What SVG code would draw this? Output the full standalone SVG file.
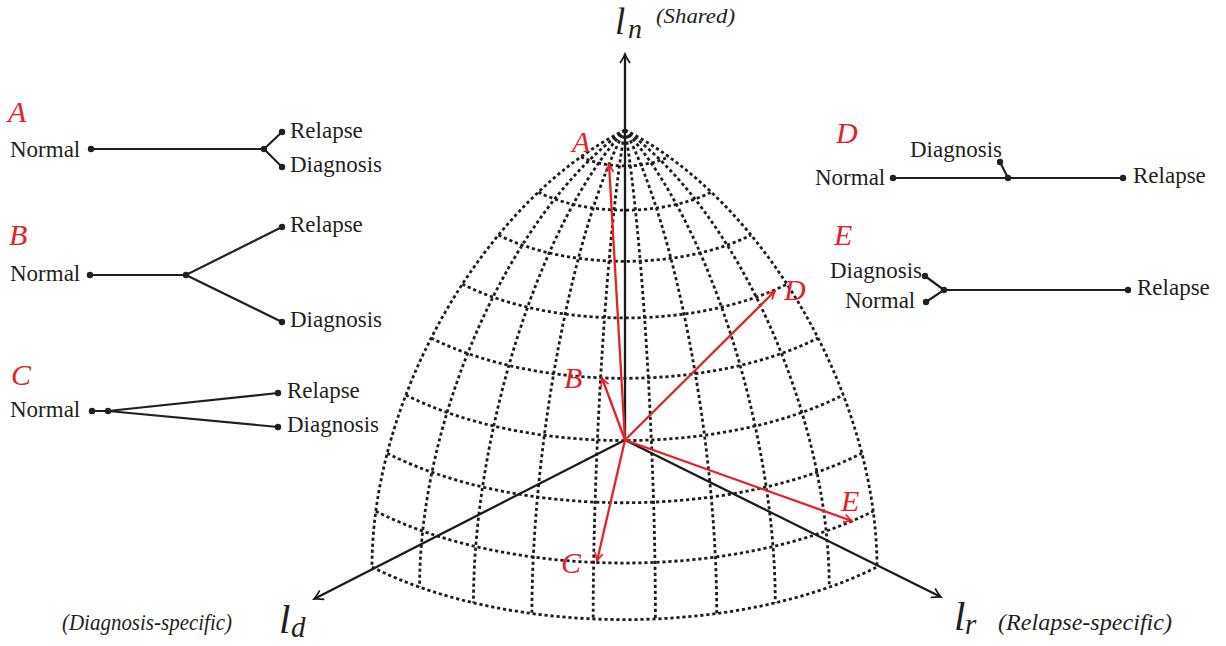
<svg xmlns="http://www.w3.org/2000/svg" width="1226" height="646" viewBox="0 0 1226 646" font-family="Liberation Serif, DejaVu Serif, serif">
<style>
.grid{fill:none;stroke:#1e1e1e;stroke-width:2.8;stroke-dasharray:3.2 2.8}
.axis{fill:none;stroke:#1a1a1a;stroke-width:2.3}
.vec{fill:none;stroke:#e4202a;stroke-width:2.3}
.edge{fill:none;stroke:#231f20;stroke-width:2.2}
.dot{fill:#231f20}
.lbl{font-size:23px;fill:#231f20}
.red{font-style:italic;font-size:30px;fill:#e4202a}
.ax{font-style:italic;fill:#231f20}
</style>
<defs>
<marker id="ra" viewBox="-10 -6 12 12" refX="0" refY="0" markerWidth="12" markerHeight="12" markerUnits="userSpaceOnUse" orient="auto">
<path d="M-8,-4 Q-3,-1 0,0 Q-3,1 -8,4" fill="none" stroke="#e4202a" stroke-width="1.7"/>
</marker>
<marker id="ka" viewBox="-12 -7 14 14" refX="0" refY="0" markerWidth="14" markerHeight="14" markerUnits="userSpaceOnUse" orient="auto">
<path d="M-9,-5 Q-3,-1 0,0 Q-3,1 -9,5" fill="none" stroke="#1a1a1a" stroke-width="1.7"/>
</marker>
</defs>

<g id="sphere-grid">
<path class="grid" d="M625,130 C485.27,200.14 372,395.79 372,567"/>
<path class="grid" d="M625,130 C511.56,211.25 419.60,415.91 419.60,587.12"/>
<path class="grid" d="M625,130 C541.30,219.90 473.45,431.57 473.45,602.78"/>
<path class="grid" d="M625,130 C573.58,225.82 531.90,442.28 531.90,613.49"/>
<path class="grid" d="M625,130 C607.42,228.81 593.17,447.71 593.17,618.92"/>
<path class="grid" d="M625,130 C641.80,228.81 655.41,447.71 655.41,618.92"/>
<path class="grid" d="M625,130 C675.67,225.82 716.74,442.28 716.74,613.49"/>
<path class="grid" d="M625,130 C707.99,219.90 775.27,431.57 775.27,602.78"/>
<path class="grid" d="M625,130 C737.80,211.25 829.24,415.91 829.24,587.12"/>
<path class="grid" d="M625,130 C764.17,200.14 877,395.79 877,567"/>
<path class="grid" d="M372,567 C511.17,637.14 737.27,637.14 877,567"/>
<path class="grid" d="M375.84,511.24 C512.90,580.31 735.56,580.31 873.17,511.24"/>
<path class="grid" d="M387.26,453.31 C518.04,519.22 730.50,519.22 861.80,453.31"/>
<path class="grid" d="M405.90,394.99 C526.42,455.73 722.23,455.73 843.24,394.99"/>
<path class="grid" d="M431.19,338.03 C537.80,391.76 711.00,391.76 818.04,338.03"/>
<path class="grid" d="M462.37,284.16 C551.83,329.25 697.17,329.25 786.98,284.16"/>
<path class="grid" d="M498.5,235.03 C568.08,270.10 681.14,270.10 751,235.03"/>
<path class="grid" d="M538.47,192.14 C586.07,216.13 663.40,216.13 711.19,192.14"/>
<path class="grid" d="M581.07,156.76 C605.23,168.94 644.50,168.94 668.76,156.76"/>
</g>

<g id="connectors">
<line class="axis" x1="625" y1="440" x2="625" y2="54" marker-end="url(#ka)"/>
<line class="axis" x1="625" y1="440" x2="314" y2="599" marker-end="url(#ka)"/>
<line class="axis" x1="625" y1="440" x2="941" y2="597" marker-end="url(#ka)"/>
<line class="vec" x1="625" y1="440" x2="609" y2="164" marker-end="url(#ra)"/>
<line class="vec" x1="625" y1="440" x2="602" y2="378" marker-end="url(#ra)"/>
<line class="vec" x1="625" y1="440" x2="597" y2="561" marker-end="url(#ra)"/>
<line class="vec" x1="625" y1="440" x2="775" y2="291" marker-end="url(#ra)"/>
<line class="vec" x1="625" y1="440" x2="852" y2="521" marker-end="url(#ra)"/>
</g>

<g id="axis-labels">
<text class="ax" x="615" y="34" font-size="37">l</text>
<text class="ax" x="628" y="38" font-size="28">n</text>
<text class="ax" x="656" y="23" font-size="22" textLength="79" lengthAdjust="spacingAndGlyphs">(Shared)</text>
<text class="ax" x="62" y="630" font-size="24" textLength="170" lengthAdjust="spacingAndGlyphs">(Diagnosis-specific)</text>
<text class="ax" x="279" y="633" font-size="41">l</text>
<text class="ax" x="291" y="637" font-size="29">d</text>
<text class="ax" x="954" y="630" font-size="41">l</text>
<text class="ax" x="965" y="634" font-size="29">r</text>
<text class="ax" x="998" y="630" font-size="24" textLength="174" lengthAdjust="spacingAndGlyphs">(Relapse-specific)</text>
</g>

<g id="vector-labels">
<text class="red" x="572" y="152">A</text>
<text class="red" x="564" y="388">B</text>
<text class="red" x="561" y="573">C</text>
<text class="red" x="784" y="300">D</text>
<text class="red" x="841" y="511">E</text>
</g>

<g id="tree-A">
<text class="red" x="8" y="122">A</text>
<text class="lbl" x="10" y="157">Normal</text>
<path class="edge" d="M91,149 H264 L282,132 M264,149 L282,167"/>
<circle class="dot" cx="91" cy="149" r="3.2"/>
<circle class="dot" cx="264" cy="149" r="3.2"/>
<circle class="dot" cx="282" cy="132" r="3.2"/>
<circle class="dot" cx="282" cy="167" r="3.2"/>
<text class="lbl" x="290" y="138">Relapse</text>
<text class="lbl" x="290" y="172">Diagnosis</text>
</g>

<g id="tree-B">
<text class="red" x="9" y="245">B</text>
<text class="lbl" x="10" y="281">Normal</text>
<path class="edge" d="M90,275 H186 L282,227 M186,275 L282,322"/>
<circle class="dot" cx="90" cy="275" r="3.2"/>
<circle class="dot" cx="186" cy="275" r="3.2"/>
<circle class="dot" cx="282" cy="227" r="3.2"/>
<circle class="dot" cx="282" cy="322" r="3.2"/>
<text class="lbl" x="290" y="232">Relapse</text>
<text class="lbl" x="290" y="327">Diagnosis</text>
</g>

<g id="tree-C">
<text class="red" x="11" y="385">C</text>
<text class="lbl" x="10" y="417">Normal</text>
<path class="edge" d="M92,411 H108 L278,393 M108,411 L278,427"/>
<circle class="dot" cx="92" cy="411" r="3.2"/>
<circle class="dot" cx="108" cy="411" r="3.2"/>
<circle class="dot" cx="278" cy="393" r="3.2"/>
<circle class="dot" cx="278" cy="427" r="3.2"/>
<text class="lbl" x="287" y="398">Relapse</text>
<text class="lbl" x="287" y="432">Diagnosis</text>
</g>

<g id="tree-D">
<text class="red" x="836" y="143">D</text>
<text class="lbl" x="815" y="185">Normal</text>
<text class="lbl" x="910" y="157">Diagnosis</text>
<path class="edge" d="M893,178 H1123 M1008,178 L1000,162"/>
<circle class="dot" cx="893" cy="178" r="3.2"/>
<circle class="dot" cx="1008" cy="178" r="3.2"/>
<circle class="dot" cx="1000" cy="162" r="3.2"/>
<circle class="dot" cx="1123" cy="178" r="3.2"/>
<text class="lbl" x="1133" y="183">Relapse</text>
</g>

<g id="tree-E">
<text class="red" x="834" y="245">E</text>
<text class="lbl" x="830" y="278">Diagnosis</text>
<text class="lbl" x="845" y="308">Normal</text>
<path class="edge" d="M925,276 L944,290 L926,302 M944,290 H1128"/>
<circle class="dot" cx="925" cy="276" r="3.2"/>
<circle class="dot" cx="944" cy="290" r="3.2"/>
<circle class="dot" cx="926" cy="302" r="3.2"/>
<circle class="dot" cx="1128" cy="290" r="3.2"/>
<text class="lbl" x="1137" y="295">Relapse</text>
</g>
</svg>
